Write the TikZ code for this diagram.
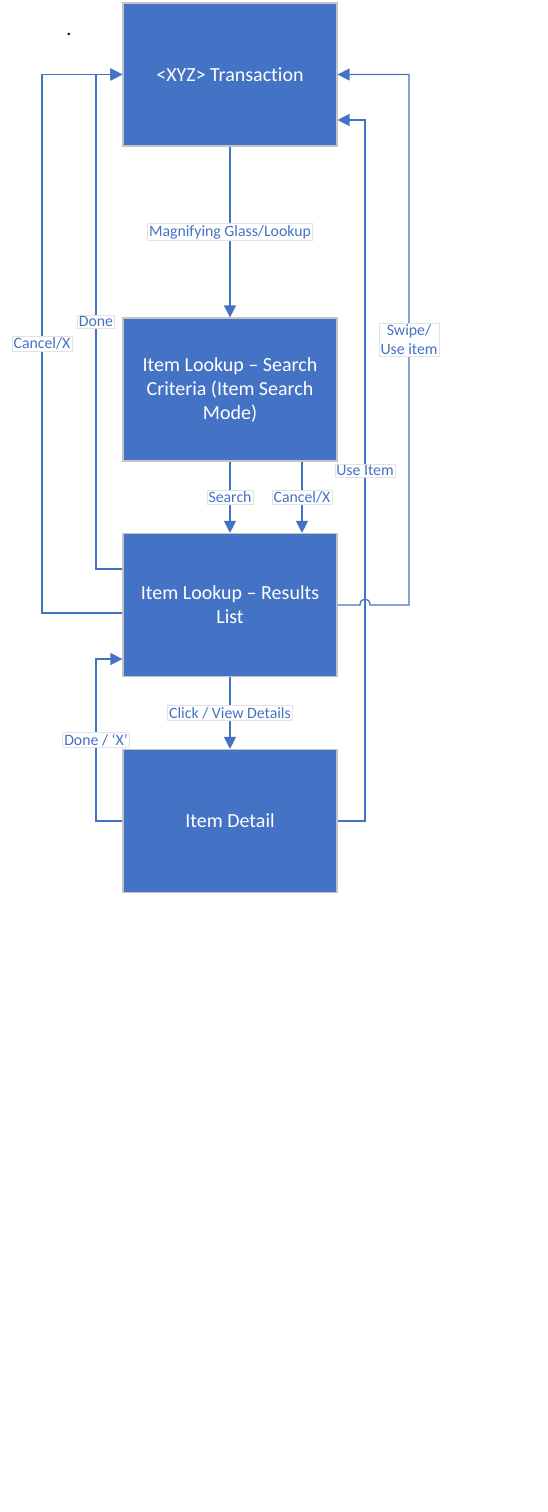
\documentclass[tikz,border=0pt]{standalone}
\usepackage{fontspec}
\setmainfont[Ligatures={NoCommon}]{Carlito}
\usetikzlibrary{arrows.meta}
\definecolor{boxblue}{HTML}{4472C4}
\definecolor{boxedge}{HTML}{C4C4C4}
\definecolor{lblblue}{HTML}{4472C4}
\definecolor{lbledge}{HTML}{E2E2E2}
\begin{document}
\begin{tikzpicture}[x=1pt,y=-1pt,
  stbox/.style={draw=boxedge, line width=1.2pt, fill=boxblue, text=white,
    minimum width=214pt, minimum height=143pt, inner sep=0pt, align=center,
    font=\fontsize{20}{24}\selectfont},
  conn/.style={draw=boxblue, line width=1.3pt},
  arr/.style={conn, -{Triangle[length=12pt,width=12pt]}},
  lbl/.style={fill=white, draw=lbledge, line width=0.6pt, text=lblblue,
    inner sep=1.5pt, font=\fontsize{15.8}{19}\selectfont, align=center}]
\useasboundingbox (0,0) rectangle (547,1512);

\node[anchor=base, font=\fontsize{20}{24}\selectfont] (dot) at (69,36) {.};

\node[stbox] (t) at (230,74.5) {<XYZ> Transaction};
\node[stbox] (s) at (230,389.5) {Item Lookup – Search\\Criteria (Item Search\\Mode)};
\node[stbox] (r) at (230,605) {Item Lookup – Results\\List};
\node[stbox] (d) at (230,821) {Item Detail};

\coordinate (lc1) at (42,613);
\coordinate (lc2) at (42,74.5);
\coordinate (ld1) at (96,569);
\coordinate (ld2) at (96,74.5);
\coordinate (dx1) at (96,821);
\coordinate (dx2) at (96,659);
\coordinate (ui1) at (365,821);
\coordinate (ui2) at (365,120);
\coordinate (sw1) at (360,605);
\coordinate (sw2) at (370,605);
\coordinate (sw3) at (409,605);
\coordinate (sw4) at (409,74.5);

\draw[arr] (t) -- node[lbl] (lmg) {Magnifying Glass/Lookup} (s);
\draw[arr] (s) -- node[lbl] (lse) {Search} (r);
\draw[arr] ([xshift=72pt]s.south) -- node[lbl] (lcx) {Cancel/X} ([xshift=72pt]r.north);
\draw[arr] (r) -- node[lbl] (lcv) {Click / View Details} (d);

\draw[arr] ([yshift=-8pt]r.west) -- (lc1) -- node[lbl, pos=0.5] (lca) {Cancel/X} (lc2) -- (t.west);
\draw[arr] ([yshift=36pt]r.west) -- (ld1) -- node[lbl, pos=0.5] (ldo) {Done} (ld2) -- (t.west);
\draw[arr] (d.west) -- (dx1) -- node[lbl, pos=0.5] (ldx) {Done / ‘X’} (dx2) -- ([yshift=-54pt]r.west);

\draw[arr] (d.east) -- (ui1) -- node[lbl, pos=0.5] (lui) {Use Item} (ui2) -- ([yshift=-45.5pt]t.east);
\draw[arr] (r.east) -- (sw1) .. controls (360,597) and (370,597) .. (sw2) -- (sw3)
  -- node[lbl, pos=0.5] (lsw) {Swipe/\\Use item} (sw4) -- (t.east);
\end{tikzpicture}
\end{document}
